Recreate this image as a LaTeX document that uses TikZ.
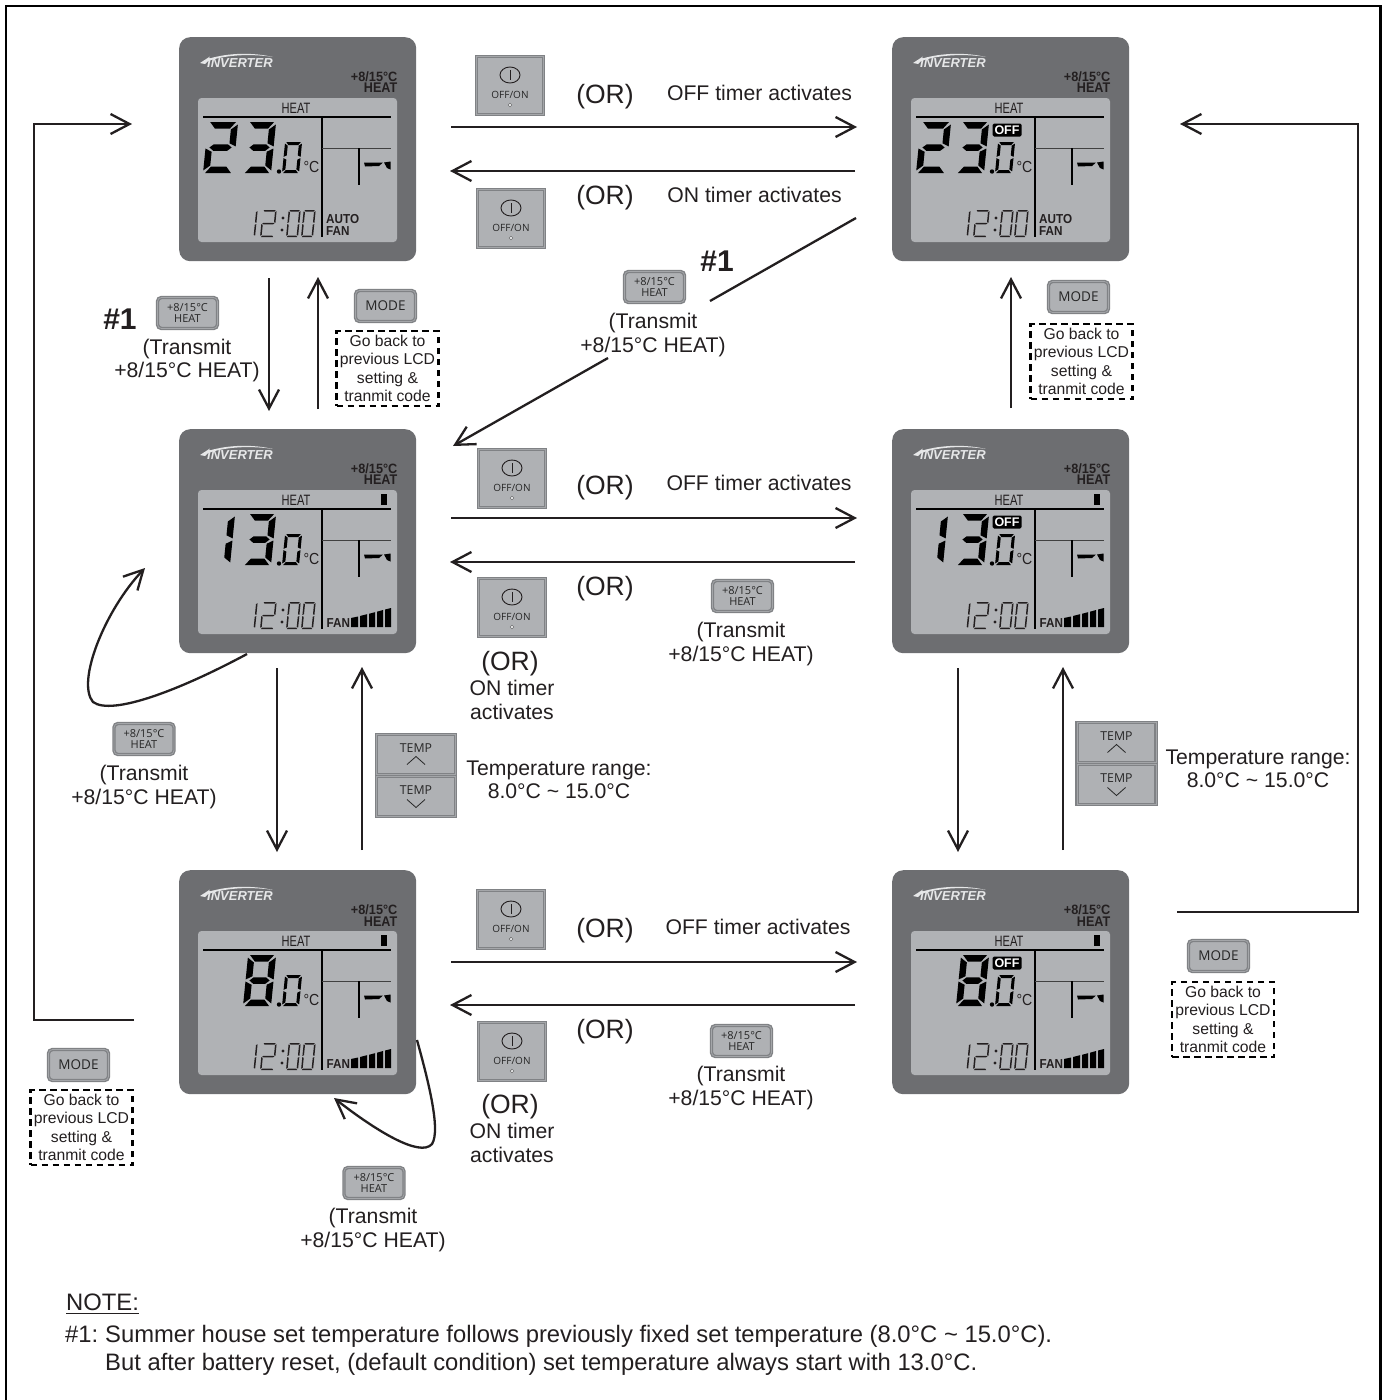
\documentclass[tikz,border=0pt]{standalone}
\usepackage{fontspec}
\setmainfont{Liberation Sans}
\newfontfamily\btnfont{Open Sans}
\usetikzlibrary{arrows.meta}
\definecolor{panelc}{HTML}{6D6E71}
\definecolor{lcdc}{HTML}{B0B2B5}
\definecolor{btnc}{HTML}{AFB1B4}
\definecolor{btnb}{HTML}{808285}
\definecolor{btnl}{HTML}{A4A6A9}
\definecolor{inkc}{HTML}{231F20}
\definecolor{logoc}{HTML}{E6E7E8}
\newcommand{\fs}[2]{\fontsize{#1}{#2}\selectfont}
\tikzset{
  arr/.style={draw=inkc,line width=2.3pt,-{Straight Barb[length=19pt,width=20pt,line width=2.3pt]}},
  plain/.style={draw=inkc,line width=2.3pt},
  lbl/.style={inner sep=0pt,align=center,text=inkc,font=\fs{21.2}{23.5}},
  orlbl/.style={inner sep=0pt,text=inkc,font=\fs{26.5}{30}},
  hash/.style={inner sep=0pt,text=inkc,font=\bfseries\fs{30}{32}},
  notelbl/.style={inner sep=0pt,anchor=base west,text=inkc,font=\fs{23.8}{26}},
  dashbox/.style={draw=black,line width=2.3pt,dash pattern=on 6.5pt off 4.5pt,minimum width=102pt,minimum height=75pt,inner sep=0pt,align=center,text=inkc,font=\fs{15.7}{18.5}},
  panelbox/.style={fill=panelc,rounded corners=11pt,minimum width=237pt,minimum height=224pt,inner sep=0pt},
  btnsq/.style={fill=btnc,draw=btnb,line width=3.4pt,inner sep=0pt,postaction={draw=btnl,line width=.7pt}},
  btnrd/.style={fill=btnc,draw=btnb,line width=3.4pt,rounded corners=4pt,minimum width=60pt,minimum height=31pt,inner sep=0pt,align=center,text=black!85,font=\btnfont,postaction={draw=btnl,line width=.7pt}},
  lcdtxt/.style={inner sep=0pt,text=inkc,font=\bfseries\fs{13}{13}},
}
% seven segment digit: x, bottom y, width, height, thickness, colour, segment list macro
\newcommand{\sevenseg}[7]{%
  \begin{scope}[shift={(#1,#2)},x={(#3pt,0pt)},y={(0.1*#4pt,#4pt)}]
    \pgfmathsetmacro{\tx}{#5/#3}\pgfmathsetmacro{\ty}{#5/#4}
    \pgfmathsetmacro{\cx}{1-\tx}\pgfmathsetmacro{\cy}{1-\ty}
    \pgfmathsetmacro{\mu}{.5+\ty/2}\pgfmathsetmacro{\ml}{.5-\ty/2}
    \foreach \s in #7{\expandafter\let\expandafter\segcur\csname seg\s\endcsname\fill[#6]\segcur;}
  \end{scope}}
\def\sega{(.07,1)--(.93,1)--(\cx-.03,\cy)--(\tx+.03,\cy)--cycle}
\def\segd{(.07,0)--(.93,0)--(\cx-.03,\ty)--(\tx+.03,\ty)--cycle}
\def\segg{(\tx*.6,.5)--(\tx+.05,\mu)--(\cx-.05,\mu)--(1-\tx*.6,.5)--(\cx-.05,\ml)--(\tx+.05,\ml)--cycle}
\def\segf{(0,.95)--(\tx,\cy-.02)--(\tx,\mu+.02)--(0,.52)--cycle}
\def\sege{(0,.05)--(\tx,\ty+.02)--(\tx,\ml-.02)--(0,.48)--cycle}
\def\segb{(1,.95)--(\cx,\cy-.02)--(\cx,\mu+.02)--(1,.52)--cycle}
\def\segc{(1,.05)--(\cx,\ty+.02)--(\cx,\ml-.02)--(1,.48)--cycle}
\def\dzero{a,b,c,d,e,f}\def\done{b,c}\def\dtwo{a,b,g,e,d}\def\dthree{a,b,g,c,d}\def\deight{a,b,c,d,e,f,g}
\newcommand{\smallzero}{\sevenseg{103}{136}{17}{31}{3}{black}{\dzero}\fill[black](100,134.5) circle (2.2);
  \node[inner sep=0pt,text=inkc,font=\fs{16}{16}] (\pn-deg) at (132.5,130) {\scalebox{.88}[1]{\textdegree C}};}
\newcommand{\tempA}{\sevenseg{24}{136}{30}{51}{6.5}{black}{\dtwo}\sevenseg{64}{136}{28}{51}{6.5}{black}{\dthree}\smallzero}
\newcommand{\tempB}{\sevenseg{23}{136}{28}{51}{6.5}{black}{\done}\sevenseg{64}{136}{28}{51}{6.5}{black}{\dthree}\smallzero}
\newcommand{\tempC}{\sevenseg{64}{136}{28}{51}{6.5}{black}{\deight}\smallzero}
\newcommand{\offbadge}{\node[fill=black,rounded corners=1.5pt,minimum width=29pt,minimum height=13pt,inner sep=0pt,text=white,font=\bfseries\fs{12.5}{12}] (\pn-off) at (115,93) {OFF};}
\newcommand{\autofan}{\node[lcdtxt,anchor=west,align=left,font=\bfseries\fs{13}{12.5}] (\pn-auto) at (147,188) {\scalebox{.9}[1]{AUTO}\\\scalebox{.9}[1]{FAN}};}
\newcommand{\fanbars}{\node[lcdtxt,anchor=west] (\pn-fan) at (147.5,194) {\scalebox{.9}[1]{FAN}};
  \fill[black](172,198)--(172,189)--(179,187.5)--(179,198)--cycle (181,198)--(181,187)--(188,185.2)--(188,198)--cycle (190,198)--(190,184.8)--(196,183.2)--(196,198)--cycle (198,198)--(198,182.7)--(204,181)--(204,198)--cycle (206,198)--(206,180.5)--(212,179)--(212,198)--cycle;
  \fill[black](202,65) rectangle (208,76);}
% LCD panel: name, x, y, contents
\newcommand{\lcd}[4]{%
  \node[panelbox,anchor=north west] (#1) at (#2,#3) {};
  \begin{scope}[shift={(#2,#3)}]
    \def\pn{#1}
    \fill[lcdc,rounded corners=3.5pt](19,61) rectangle (218,205);
    \node[inner sep=0pt,anchor=west,text=logoc,font=\bfseries\itshape\fs{13}{13}] (#1-logo) at (28,26.5) {INVERTER};
    \fill[logoc](21,26)--(31,19.5)--(29.5,21.8)..controls(50,15.5)and(75,15.5)..(94,20)..controls(75,17)and(50,17)..(29,24)--(26,27)--cycle;
    \node[inner sep=0pt,anchor=east,align=right,text=inkc,font=\bfseries\fs{13.5}{11.2}] (#1-mode) at (218.5,45.5) {\scalebox{.94}[1]{+8/15\textdegree C}\\{\fs{14}{11.2}\scalebox{.9}[1]{HEAT}}};
    \node[inner sep=0pt,text=inkc,font=\fs{15}{15}] (#1-heat) at (117,71.5) {\scalebox{.74}[1]{HEAT}};
    \draw[black,line width=1.5pt](24,80)--(212,80);
    \draw[black,line width=1.5pt](143,80)--(143,200);
    \draw[black!75,line width=1pt](143,111)--(212,111);
    \draw[black,line width=1.6pt](180,111)--(180,148);
    \fill[black](185,125.5)--(204,125.5)--(200,129)--(186,129.5)--cycle (205,125.5)--(211.5,124.5)--(211.5,132.5)--(208,131)--cycle;
    \sevenseg{69}{200}{7}{27}{1.5}{inkc}{\done}
    \sevenseg{81}{200}{14}{27}{1.5}{inkc}{\dtwo}
    \fill[inkc](104,181) circle (1.7) (103,193) circle (1.7);
    \sevenseg{107}{200}{12}{27}{1.5}{inkc}{\dzero}
    \sevenseg{122}{200}{12}{27}{1.5}{inkc}{\dzero}
    #4
  \end{scope}}
\newcommand{\offon}[3]{%
  \node[btnsq,minimum width=67pt,minimum height=58pt] (#1) at (#2,#3) {};
  \begin{scope}[shift={(#2,#3)}]
    \draw[inkc,line width=.9pt](0,-10.5) ellipse (10 and 8);
    \draw[inkc,line width=.9pt](0,-15.5)--(0,-5.5);
    \node[inner sep=0pt,text=black!85,font=\btnfont\fs{10}{10}] (#1-t) at (0,9) {OFF/ON};
    \fill[white](0,19.5) circle (1.2);\draw[black!60,line width=.4pt](0,19.5) circle (1.8);
  \end{scope}}
\newcommand{\heatbtn}[3]{\node[btnrd,font=\btnfont\fs{11}{11.5}] (#1) at (#2,#3) {+8/15\textdegree C\\HEAT};}
\newcommand{\modebtn}[3]{\node[btnrd,font=\btnfont\fs{13.5}{14}] (#1) at (#2,#3) {MODE};}
\newcommand{\tempbtn}[3]{%
  \node[btnsq,minimum width=79pt,minimum height=39.5pt] (#1-up) at (#2,#3-21) {};
  \node[btnsq,minimum width=79pt,minimum height=39.5pt] (#1-dn) at (#2,#3+21) {};
  \node[inner sep=0pt,text=black!85,font=\btnfont\fs{12.3}{13}] (#1-ut) at (#2,#3-27) {TEMP};
  \node[inner sep=0pt,text=black!85,font=\btnfont\fs{12.3}{13}] (#1-dt) at (#2,#3+15) {TEMP};
  \draw[black!85,line width=.8pt](#2-9,#3-11)--(#2,#3-19)--(#2+9,#3-11);
  \draw[black!85,line width=.8pt](#2-9,#3+24)--(#2,#3+32)--(#2+9,#3+24);}
\newcommand{\transmit}[3]{\node[lbl] (#1) at (#2,#3) {(Transmit\\+8/15\textdegree C HEAT)};}
\newcommand{\gobox}[3]{\node[dashbox] (#1) at (#2,#3) {Go back to\\previous LCD\\setting \&\\tranmit code};}
\newcommand{\conn}[5]{\coordinate (#1s) at (#2,#3);\coordinate (#1e) at (#4,#5);\draw[arr] (#1s)--(#1e);}
\begin{document}
\begin{tikzpicture}[x=1pt,y=-1pt]
\useasboundingbox (0,0) rectangle (1383,1400);
\fill[white](0,0) rectangle (1383,1400);
\draw[black,line width=2.8pt](6,6) rectangle (1380.5,1406);
% panels
\lcd{p1}{179}{37}{\tempA\autofan}
\lcd{p2}{892}{37}{\tempA\offbadge\autofan}
\lcd{p3}{179}{429}{\tempB\fanbars}
\lcd{p4}{892}{429}{\tempB\offbadge\fanbars}
\lcd{p5}{179}{870}{\tempC\fanbars}
\lcd{p6}{892}{870}{\tempC\offbadge\fanbars}
% connectors
\conn{a1}{451}{127}{857}{127}
\conn{a2}{855}{171}{450}{171}
\conn{a3}{451}{518}{857}{518}
\conn{a4}{855}{562}{450}{562}
\conn{a5}{451}{962}{857}{962}
\conn{a6}{855}{1005}{450}{1005}
\conn{v1}{269}{278}{269}{411}
\conn{v2}{318}{409}{318}{277}
\conn{v3}{277}{668}{277}{852}
\conn{v4}{362}{850}{362}{667}
\conn{v5}{1011}{408}{1011}{277}
\conn{v6}{958}{668}{958}{852}
\conn{v7}{1063}{850}{1063}{667}
\coordinate (d1) at (856,218);\coordinate (d2) at (710,301);\draw[plain] (d1)--(d2);
\conn{d3}{608}{358}{453}{446}
\coordinate (o1) at (134,1020);\coordinate (o2) at (34,1020);\coordinate (o3) at (34,124);\coordinate (o4) at (132,124);
\draw[arr] (o1)--(o2)--(o3)--(o4);
\coordinate (r1) at (1177,912);\coordinate (r2) at (1358,912);\coordinate (r3) at (1358,124);\coordinate (r4) at (1180,124);
\draw[arr] (r1)--(r2)--(r3)--(r4);
\coordinate (c1) at (247,654);\coordinate (c2) at (145,568);
\draw[arr] (c1)..controls(180,690)and(112,716)..(93,702)..controls(76,682)and(105,610)..(c2);
\coordinate (c3) at (417,1040);\coordinate (c4) at (334,1098);
\draw[arr] (c3)..controls(428,1080)and(441,1130)..(432,1144)..controls(420,1158)and(375,1130)..(c4);
% off/on buttons
\offon{b1}{510}{85.5}\offon{b2}{511}{218.5}\offon{b3}{512}{478.5}\offon{b4}{512}{607.5}\offon{b5}{511}{919.5}\offon{b6}{512}{1051.5}
\heatbtn{h1}{187.5}{313}\heatbtn{h2}{654.5}{287}\heatbtn{h3}{144}{739}\heatbtn{h4}{742.5}{596}\heatbtn{h5}{374}{1183}\heatbtn{h6}{741.5}{1041}
\modebtn{m1}{385.5}{306}\modebtn{m2}{1078.5}{297}\modebtn{m3}{1218.5}{956}\modebtn{m4}{78.5}{1065}
\tempbtn{t1}{416}{775.5}\tempbtn{t2}{1116.5}{763.5}
\gobox{g1}{387.5}{368.5}\gobox{g2}{1081.5}{361.5}\gobox{g3}{1223}{1019.5}\gobox{g4}{81.5}{1127.5}
% labels
\node[orlbl] (or1) at (605,97) {(OR)};
\node[orlbl] (or2) at (605,198) {(OR)};
\node[orlbl] (or3) at (605,488) {(OR)};
\node[orlbl] (or4) at (605,589) {(OR)};
\node[orlbl] (or5) at (605,931) {(OR)};
\node[orlbl] (or6) at (605,1032) {(OR)};
\node[orlbl] (or7) at (510,664) {(OR)};
\node[orlbl] (or8) at (510,1107) {(OR)};
\node[lbl] (off1) at (759.5,93) {OFF timer activates};
\node[lbl] (off2) at (759,483) {OFF timer activates};
\node[lbl] (off3) at (758,927) {OFF timer activates};
\node[lbl] (on1) at (754.5,195) {ON timer activates};
\node[lbl] (on2) at (512,700) {ON timer\\activates};
\node[lbl] (on3) at (512,1143) {ON timer\\activates};
\node[hash] (n1) at (717,261) {\#1};
\node[hash] (n2) at (120,319) {\#1};
\transmit{x1}{187}{360.5}\transmit{x2}{653}{335}\transmit{x3}{144}{787}\transmit{x4}{741}{644}\transmit{x5}{373}{1230}\transmit{x6}{741}{1088}
\node[lbl] (tr1) at (559,780) {Temperature range:\\8.0\textdegree C \textasciitilde{} 15.0\textdegree C};
\node[lbl] (tr2) at (1258,769) {Temperature range:\\8.0\textdegree C \textasciitilde{} 15.0\textdegree C};
\node[notelbl] (note) at (66,1310) {NOTE:};
\draw[inkc,line width=1pt] (note.base west)++(0,3.5)--++(72.5,0);
\node[notelbl] (note1) at (65,1342) {\#1:};
\node[notelbl] (note2) at (105,1342) {Summer house set temperature follows previously fixed set temperature (8.0\textdegree C \textasciitilde{} 15.0\textdegree C).};
\node[notelbl] (note3) at (105,1370) {But after battery reset, (default condition) set temperature always start with 13.0\textdegree C.};
\end{tikzpicture}
\end{document}
